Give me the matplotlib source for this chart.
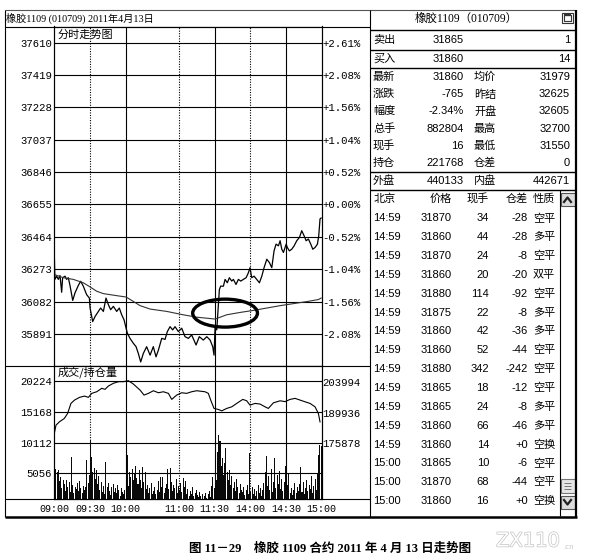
import numpy as np
import matplotlib
matplotlib.use('Agg')
import matplotlib.pyplot as plt
from matplotlib.patches import Ellipse, Rectangle
import matplotlib.patheffects as pe

W, H = 600, 560
CJK = ['Noto Sans CJK SC', 'DejaVu Sans']
SANS = ['Liberation Sans', 'Noto Sans CJK SC']
MONO = ['Liberation Mono', 'Noto Sans CJK SC']
SERIF = ['Liberation Serif', 'Noto Sans CJK SC']

# -----------------------------------------------------------------------------
# data (x in trading minutes from 09:00, 225 in total)

price_levels = [37610, 37419, 37228, 37037, 36846, 36655, 36464, 36273, 36082, 35891]
pct_labels = ['+2.61%', '+2.08%', '+1.56%', '+1.04%', '+0.52%',
              '+0.00%', '-0.52%', '-1.04%', '-1.56%', '-2.08%']

time_ticks = [0, 30, 60, 105, 135, 165, 195, 225]
time_labels = ['09:00', '09:30', '10:00', '11:00', '11:30', '14:00', '14:30', '15:00']
solid_grid = [60, 135, 195]
dotted_grid = [30, 105, 165]

price_t = [0, 0.5, 2.0, 3.4, 4.8, 6.2, 7.0, 9.0, 10.4, 11.8, 13.2, 15.5, 17.4,
           20.2, 22.2, 24.4, 27.2, 29.5, 30.1, 32.3, 34.3, 37.1, 39.0, 41.3,
           43.5, 45.5, 47.4, 49.7, 52.5, 54.7, 56.7, 58.7, 60.4, 61.5, 63.7,
           66.5, 68.8, 70.7, 72.7, 74.9, 77.7, 80.6, 83.3, 85.6, 87.6, 90.4,
           93.2, 95.1, 97.4, 99.6, 101.6, 104.4, 107.2, 110.0, 112.8, 115.6,
           119.3, 122.0, 125.4, 128.3, 131.1, 133.3, 134.4, 135.3, 136.7,
           138.9, 140.0, 142.3, 143.7, 145.6, 147.3, 149.3, 150.7, 152.9,
           154.9, 156.9, 159.1, 161.4, 163.3, 164.7, 166.1, 168.1, 170.3,
           172.6, 174.6, 176.5, 178.8, 181.0, 183.0, 184.9, 186.6, 188.6,
           190.0, 191.4, 192.8, 195.1, 196.1, 197.8, 199.8, 201.8, 204.0,
           206.3, 208.2, 210.2, 211.9, 213.8, 215.8, 217.5, 219.4, 221.4,
           222.5, 223.6, 224.5]
price_v = [36361, 36213, 36232, 36213, 36236, 36137, 36223, 36232, 36213, 36223,
           36177, 36089, 36133, 36177, 36202, 36173, 36123, 36103, 36044, 35964,
           35994, 36024, 36044, 36024, 36103, 36064, 36034, 36054, 36024, 36044,
           36004, 35974, 35925, 35895, 35865, 35836, 35816, 35776, 35726, 35776,
           35816, 35766, 35816, 35756, 35796, 35865, 35859, 35905, 35934, 35915,
           35934, 35905, 35925, 35875, 35865, 35885, 35826, 35875, 35855, 35875,
           35855, 35816, 35766, 35934, 35915, 36153, 36173, 36173, 36213, 36193,
           36223, 36203, 36213, 36183, 36213, 36203, 36213, 36223, 36252, 36282,
           36223, 36232, 36213, 36193, 36232, 36282, 36332, 36312, 36282, 36381,
           36421, 36411, 36441, 36391, 36372, 36421, 36401, 36381, 36391, 36411,
           36441, 36461, 36500, 36470, 36441, 36451, 36421, 36391, 36401, 36421,
           36470, 36570, 36575]

avg_t = [0, 7.5, 16, 24.4, 30, 35.7, 41.3, 52.5, 60.4, 66.5, 72.2, 80.6, 94.6,
         108.6, 119.8, 135.3, 145, 156.3, 167.5, 178.8, 190, 201.2, 212.4,
         222.2, 224.5]
avg_v = [36242, 36223, 36213, 36193, 36169, 36143, 36129, 36117, 36109, 36083,
         36058, 36038, 36024, 36004, 35990, 35979, 36004, 36018, 36030, 36044,
         36058, 36070, 36082, 36094, 36103]

vol_levels = [20224, 15168, 10112, 5056]
oi_levels = [203994, 189936, 175878]

volume = [
    11870, 5800, 5200, 5600, 3800, 4400, 2600, 3900, 3300, 2200, 4000, 2900, 3600, 2000, 7800,
    3100, 1800, 2900, 2500, 3400, 2100, 3800, 2600, 1900, 3000, 2300, 2800, 7200, 3500, 4800,
    10500, 7700, 5200, 6000, 4100, 5600, 3300, 4700, 2400, 3600, 2000, 3000, 1700, 6900, 2800,
    3400, 2200, 1500, 2900, 3300, 2000, 2600, 1800, 3100, 2300, 1400, 2700, 2000, 1600, 2400,
    1200, 8000, 3000, 5200, 4400, 5800, 3900, 5000, 6200, 4300, 3300, 5600, 4000, 2700, 6100,
    3600, 5300, 2500, 3100, 1900, 2600, 3400, 1700, 2200, 2900, 1600, 2400, 3800, 2000, 4500,
    2800, 4400, 1900, 2600, 3300, 5700, 2500, 5900, 3600, 2200, 3200, 2700, 4100, 1800, 3000,
    2400, 3500, 2000, 4300, 2800, 3800, 1700, 2500, 1400, 2200, 1600, 2900, 1300, 1900, 2300,
    1500, 1100, 2000, 1300, 1700, 900, 1400, 1800, 1000, 1600, 2200, 1200, 3000, 4500, 2600,
    5800, 4000, 8600, 11300, 10400, 6200, 7500, 4800, 6800, 9200, 5200, 3900, 5600, 3100, 4600,
    2700, 3600, 2200, 4100, 2900, 1800, 3300, 2400, 2000, 2800, 1500, 2300, 3100, 1700, 8400,
    2000, 2900, 1600, 2500, 1400, 2200, 3100, 1800, 2600, 1300, 2300, 3400, 5200, 7900, 3000,
    4600, 2400, 5800, 2000, 3600, 7600, 2700, 4800, 3300, 5500, 2500, 4200, 2100, 3700, 6300,
    2300, 3200, 5000, 1900, 2700, 1500, 2400, 3500, 1800, 2900, 2200, 3300, 6100, 2000, 3600,
    1700, 2600, 3900, 2100, 3200, 2500, 4600, 1900, 3000, 4200, 2400, 5000, 8000, 9700, 9600,
]

oi_t = [0, 1.4, 4.2, 8.4, 11.2, 14, 17, 21.2, 25.4, 28.7, 31.5, 35.7, 39.9, 42.7,
        45.5, 49.7, 54, 58, 62.3, 66.5, 72.1, 75.5, 79.2, 83.4, 87.6, 91.8, 96,
        98.8, 103, 107.2, 111.4, 115.6, 119.8, 126.8, 129.6, 131.6, 134.4, 138,
        140.9, 145.1, 149.3, 153.5, 158.6, 161.9, 164.7, 168.9, 173.1, 177.3,
        180.1, 184.4, 190, 194.2, 198.4, 202.6, 206.8, 211, 215.2, 219.4, 222.2,
        223.6]
oi_v = [180325, 184130, 185650, 187200, 189500, 194085, 195600, 196840, 197430,
        196840, 198670, 199410, 200970, 200510, 202020, 203260, 203994, 203994,
        204450, 202940, 200190, 197890, 198670, 199870, 198950, 199410, 198670,
        195920, 197890, 198950, 198670, 199410, 199870, 199410, 198670, 195600,
        191800, 191330, 190690, 191800, 192530, 194085, 195920, 195280, 193300,
        194085, 193800, 192530, 191800, 194360, 195280, 194900, 195920, 196380,
        195600, 194820, 194085, 192530, 189500, 185650]

# quote panel
sell = ['卖出', '31865', '1']
buy = ['买入', '31860', '14']
quote_left = ['最新', '涨跌', '幅度', '总手', '现手', '持仓']
quote_left_val = ['31860', '-765', '-2.34%', '882804', '16', '221768']
quote_right = ['均价', '昨结', '开盘', '最高', '最低', '仓差']
quote_right_val = ['31979', '32625', '32605', '32700', '31550', '0']
outer = ['外盘', '440133', '内盘', '442671']

tick_header = ['北京', '价格', '现手', '仓差', '性质']
tick_time = ['14:59'] * 13 + ['15:00'] * 3
tick_price = ['31870', '31860', '31870', '31860', '31880', '31875', '31860', '31860',
              '31880', '31865', '31865', '31860', '31860', '31865', '31870', '31860']
tick_hand = ['34', '44', '24', '20', '114', '22', '42', '52',
             '342', '18', '24', '66', '14', '10', '68', '16']
tick_diff = ['-28', '-28', '-8', '-20', '-92', '-8', '-36', '-44',
             '-242', '-12', '-8', '-46', '+0', '-6', '-44', '+0']
tick_kind = ['空平', '多平', '空平', '双平', '空平', '多平', '多平', '空平',
             '空平', '空平', '多平', '多平', '空换', '空平', '空平', '空换']

# -----------------------------------------------------------------------------


def px_axes(fig, x0, y0, x1, y1):
    '''add axes given a box in pixel coords (y measured from the top)'''
    return fig.add_axes([x0 / W, 1 - y1 / H, (x1 - x0) / W, (y1 - y0) / H])


fig = plt.figure(figsize=(W / 100, H / 100), dpi=100)
bg = fig.add_axes([0, 0, 1, 1])
bg.set_xlim(0, W)
bg.set_ylim(H, 0)
bg.axis('off')


def hline(y, x0, x1, lw=0.8, c='black'):
    bg.plot([x0, x1], [y, y], color=c, lw=lw, solid_capstyle='butt')


def vline(x, y0, y1, lw=0.8, c='black'):
    bg.plot([x, x], [y0, y1], color=c, lw=lw, solid_capstyle='butt')


# frame
hline(10, 5, 576, c='#555')
vline(5, 10, 517)
hline(26.5, 5, 370)
hline(366, 5, 370)
hline(499, 5, 370)
vline(370, 10, 517)
vline(575.5, 10, 517, lw=1.6)
hline(516.5, 5, 576.5, lw=1.8)
for y in [30, 49.5, 68, 171.5, 189.5]:
    hline(y, 370, 575.5, lw=1.0)
vline(559.5, 189.5, 516)

bg.text(6, 18, '橡胶1109 (010709) 2011年4月13日', fontsize=7.3,
        family=SERIF, va='center', ha='left')
bg.text(466, 18.5, '橡胶1109（010709）', fontsize=8.3,
        family=SERIF, va='center', ha='center')
# little window icon
bg.add_patch(Rectangle((562, 12.5), 11, 10.5, fill=False, lw=0.8, ec='#333'))
bg.add_patch(Rectangle((564, 14.5), 7, 6.5, fill=False, lw=0.8, ec='#333'))
hline(15.3, 564, 571, lw=1.6, c='#333')

# quote block
fs = 8
for y, row in [(40, sell), (59, buy)]:
    bg.text(373, y, row[0], fontsize=fs, family=CJK, va='center')
    bg.text(464, y, row[1], fontsize=fs, family=SANS, va='center', ha='right')
    bg.text(570, y, row[2], fontsize=fs, family=SANS, va='center', ha='right')
for i in range(len(quote_left)):
    y = 77 + i * 17.2
    bg.text(373, y, quote_left[i], fontsize=fs, family=CJK, va='center')
    bg.text(464, y, quote_left_val[i], fontsize=fs, family=SANS, va='center', ha='right')
    bg.text(474, y, quote_right[i], fontsize=fs, family=CJK, va='center')
    bg.text(570, y, quote_right_val[i], fontsize=fs, family=SANS, va='center', ha='right')
bg.text(373, 181, outer[0], fontsize=fs, family=CJK, va='center')
bg.text(464, 181, outer[1], fontsize=fs, family=SANS, va='center', ha='right')
bg.text(474, 181, outer[2], fontsize=fs, family=CJK, va='center')
bg.text(570, 181, outer[3], fontsize=fs, family=SANS, va='center', ha='right')

# tick-by-tick table
hx = [(374, 'left'), (452, 'right'), (489, 'right'), (528, 'right'), (533, 'left')]
for (x, ha), lab in zip(hx, tick_header):
    bg.text(x, 199, lab, fontsize=fs, family=CJK, va='center', ha=ha)
for i in range(len(tick_time)):
    y = 218.3 + i * 18.85
    cols = [tick_time[i], tick_price[i], tick_hand[i], tick_diff[i], tick_kind[i]]
    for (x, ha), s in zip(hx, cols):
        bg.text(x - (1 if ha == 'left' and x < 400 else 0), y, s, fontsize=fs,
                family=SANS, va='center', ha=ha)

# scroll bar
for y0 in [193, 496]:
    bg.add_patch(Rectangle((560.5, y0), 14, 13, fc='#dcdcdc', ec='#555', lw=0.8))
bg.plot([564, 567.5, 571], [202, 197.5, 202], color='#222', lw=1.6)
bg.plot([564, 567.5, 571], [500, 504.5, 500], color='#222', lw=1.6)
bg.add_patch(Rectangle((560.5, 479), 14, 14, fc='#e6e6e6', ec='#777', lw=0.8))
for y in [483, 486, 489]:
    hline(y, 564, 571, lw=0.6, c='#666')

# caption and watermark
bg.text(330, 549, '图 11－29　橡胶 1109 合约 2011 年 4 月 13 日走势图',
        fontsize=9, fontweight='bold', family=SERIF, ha='center', va='center')
bg.text(528, 541, 'ZX110', fontsize=14, color='white', ha='center', va='center',
        family=['DejaVu Sans'],
        path_effects=[pe.withStroke(linewidth=1.0, foreground='#c4c4c4')])
bg.text(563, 547, '.cn', fontsize=5, color='#c4c4c4', ha='left', va='center')

# -----------------------------------------------------------------------------
# price pane

pa = px_axes(fig, 54.3, 26.5, 321.7, 366)
pa.set_xlim(0, 225)
pa.set_ylim(35702, 37705)
for v in price_levels:
    pa.axhline(v, color='black', lw=0.8, zorder=1)
for m in solid_grid:
    pa.axvline(m, color='black', lw=0.8, zorder=1)
for m in dotted_grid:
    pa.axvline(m, color='black', lw=0.8, ls=(0, (1, 1.3)), zorder=1)
pa.plot(price_t, price_v, color='black', lw=0.9, zorder=3)
pa.plot(avg_t, avg_v, color='#333', lw=0.8, zorder=3)
pa.add_patch(Ellipse((143.7, 36014), 54.5, 165, fill=False, lw=2.4,
                     ec='black', zorder=4))
pa.set_xticks([])
pa.set_yticks(price_levels, [str(v) for v in price_levels])
pa.tick_params(axis='y', length=0, pad=1.5, labelsize=7.7)
for t in pa.get_yticklabels():
    t.set_family(MONO)
pr = pa.twinx()
pr.set_ylim(pa.get_ylim())
pr.set_yticks(price_levels, pct_labels)
pr.tick_params(axis='y', length=0, pad=0.5, labelsize=7.7)
for t in pr.get_yticklabels():
    t.set_family(MONO)
pa.text(0.012, 0.976, '分时走势图', transform=pa.transAxes, fontsize=8,
        family=CJK, va='center', ha='left')

# volume / open interest pane
va_ = px_axes(fig, 54.3, 366, 321.7, 499)
va_.set_xlim(0, 225)
va_.set_ylim(848, 22687)
for v in vol_levels:
    va_.axhline(v, color='black', lw=0.8, zorder=1)
for m in solid_grid:
    va_.axvline(m, color='black', lw=0.8, zorder=1)
for m in dotted_grid:
    va_.axvline(m, color='black', lw=0.8, ls=(0, (1, 1.3)), zorder=1)
va_.bar(np.arange(len(volume)), volume, width=0.85, align='edge',
        color='#0a0a0a', lw=0, zorder=2)
va_.set_yticks(vol_levels, [str(v) for v in vol_levels])
va_.set_xticks(time_ticks, time_labels)
va_.tick_params(length=0, labelsize=7.7)
va_.tick_params(axis='y', pad=1.5)
va_.tick_params(axis='x', pad=3.5, labelsize=7.2)
for t in va_.get_yticklabels() + va_.get_xticklabels():
    t.set_family(MONO)
vr = va_.twinx()
vr.set_ylim(150458, 211160)
vr.plot(oi_t, oi_v, color='black', lw=0.8, zorder=3)
vr.set_yticks(oi_levels, [str(v) for v in oi_levels])
vr.tick_params(axis='y', length=0, pad=0.5, labelsize=7.7)
for t in vr.get_yticklabels():
    t.set_family(MONO)
va_.text(0.012, 0.955, '成交/持仓量', transform=va_.transAxes, fontsize=8,
         family=CJK, va='center', ha='left', zorder=5)

for ax in [pa, pr, va_, vr]:
    for s in ax.spines.values():
        s.set_linewidth(0.8)

fig.savefig('out.png', dpi=100)
